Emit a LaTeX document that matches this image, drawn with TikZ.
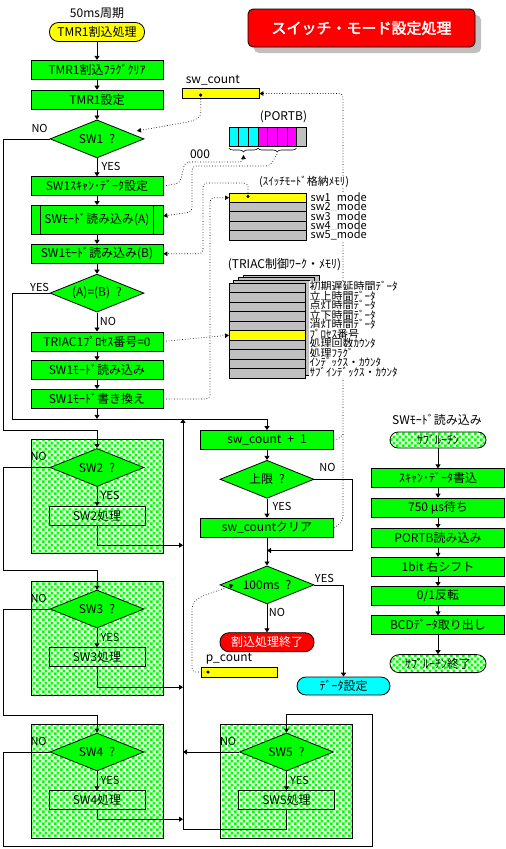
\documentclass[tikz,border=0pt]{standalone}
\usepackage{fontspec}
\setmainfont{Noto Sans CJK JP}
\newfontfamily\titlefont{Noto Sans CJK JP}[AutoFakeBold=2.5]
\usetikzlibrary{arrows.meta, positioning, shapes.geometric, patterns, shadows, decorations.pathreplacing}
\definecolor{swGreen}{HTML}{00FF00}
\definecolor{swYellow}{HTML}{FFFF00}
\definecolor{swRed}{HTML}{FF0000}
\definecolor{swCyan}{HTML}{00FFFF}
\definecolor{swMagenta}{HTML}{FF00FF}
\definecolor{swGray}{HTML}{C0C0C0}
\pgfdeclarepatternformonly{swcheck}{\pgfpointorigin}{\pgfqpoint{6pt}{6pt}}{\pgfqpoint{6pt}{6pt}}{%
	\pgfpathrectangle{\pgfpointorigin}{\pgfqpoint{3pt}{3pt}}%
	\pgfpathrectangle{\pgfqpoint{3pt}{3pt}}{\pgfqpoint{3pt}{3pt}}%
	\pgfusepath{fill}}

\begin{document}
\begin{tikzpicture}[
		x=1pt, y=-1pt,
		node distance=10pt,
		every node/.style={font=\fontsize{12}{13}\selectfont, inner sep=0pt},
		box/.style={draw, line width=0.8pt, fill=swGreen, minimum width=132pt, minimum height=19pt},
		decide/.style={diamond, draw, line width=0.8pt, fill=swGreen, minimum width=94pt, minimum height=38pt, aspect=2.5},
		term/.style={draw, line width=0.8pt, rounded corners=9pt, minimum width=95pt, minimum height=19pt},
		checker/.style={pattern=swcheck, pattern color=swGreen},
		swblock/.style={draw, line width=0.8pt, checker, minimum width=132pt, minimum height=114pt},
		procbox/.style={draw, line width=0.8pt, minimum width=96pt, minimum height=19pt},
		membar/.style={draw, line width=0.8pt, fill=swYellow, minimum width=77pt, minimum height=9.5pt},
		memcap/.style={anchor=west, fill=white, inner sep=0.5pt, font=\fontsize{11}{12}\selectfont},
		lbl/.style={font=\fontsize{11}{12}\selectfont},
		wire/.style={line width=0.8pt},
		arrow/.style={wire, -{Triangle[length=4pt, width=5pt]}},
		dotline/.style={dotted, line width=0.7pt, rounded corners=4pt},
		dotarrow/.style={dotline, -{Triangle[length=4pt, width=4.5pt]}},
		dotlink/.style={dotline, {Circle[length=3pt]}-{Triangle[length=4pt, width=4.5pt]}}
	]
	\path[use as bounding box, fill=white] (0,0) rectangle (506,849);

	\node[draw, line width=0.8pt, fill=swRed, rounded corners=5pt, minimum width=227pt, minimum height=38pt,
		drop shadow={shadow xshift=6pt, shadow yshift=-6pt, fill=swGray, opacity=1},
		text=white, font=\titlefont\bfseries\fontsize{15}{17}\selectfont] (title) at (361.5,28) {スイッチ・モード設定処理};

	\node[term, fill=swYellow] (tmr) at (97,32) {TMR1割込処理};
	\node[above=3pt of tmr] (period) {50ms周期};
	\node[box, below=18pt of tmr] (flag) {TMR1割込ﾌﾗｸﾞｸﾘｱ};
	\node[box, below=of flag] (tmrset) {TMR1設定};
	\node[decide, below=of tmrset] (sw1) {SW1\enspace?};
	\node[box, below=18pt of sw1] (scan) {SW1ｽｷｬﾝ･ﾃﾞｰﾀ設定};
	\node[box, minimum height=29pt, below=9pt of scan] (readA) {SWﾓｰﾄﾞ読み込み(A)};
	\node[box, below=9pt of readA] (readB) {SW1ﾓｰﾄﾞ読み込み(B)};
	\node[decide, below=of readB] (same) {(A)=(B)\enspace?};
	\node[box, below=19pt of same] (triac) {TRIAC1ﾌﾟﾛｾｽ番号=0};
	\node[box, below=9pt of triac] (readsw) {SW1ﾓｰﾄﾞ読み込み};
	\node[box, below=9pt of readsw] (rewrite) {SW1ﾓｰﾄﾞ書き換え};
	\coordinate[below=10pt of rewrite] (merge);
	\coordinate (rail) at ([xshift=86pt]merge);
	\draw[wire] ([xshift=10pt]readA.north west) -- ([xshift=10pt]readA.south west);
	\draw[wire] ([xshift=-10pt]readA.north east) -- ([xshift=-10pt]readA.south east);

	\node[lbl] (sw1no) at ([xshift=-10pt, yshift=10.5pt]sw1.west) {NO};
	\node[lbl] (sw1yes) at ([xshift=14pt, yshift=-8pt]sw1.south) {YES};
	\node[lbl] (sameyes) at ([xshift=-10pt, yshift=5.5pt]same.west) {YES};
	\node[lbl] (sameno) at ([xshift=11pt, yshift=-9pt]same.south) {NO};

	\node[box, minimum width=133pt] (cnt) at (267,440) {sw\_count\enspace+\enspace1};
	\node[decide, below=of cnt] (limit) {上限\enspace?};
	\node[box, minimum width=133pt, below=19pt of limit] (clear) {sw\_countクリア};
	\coordinate[below=13pt of clear] (join);
	\node[decide, below=28pt of clear] (ms) {100ms\enspace?};
	\node[term, fill=swRed, text=white, minimum width=94pt, below=28pt of ms] (intend) {割込処理終了};
	\node[term, fill=swCyan, minimum width=93pt, minimum height=18pt] (dataset) at (343.5,686) {ﾃﾞｰﾀ設定};
	\node[lbl] (limitno) at ([xshift=13pt, yshift=11.5pt]limit.east) {NO};
	\node[lbl] (limityes) at ([xshift=15pt, yshift=-8pt]limit.south) {YES};
	\node[lbl] (msyes) at ([xshift=10pt, yshift=6.5pt]ms.east) {YES};
	\node[lbl] (msno) at ([xshift=10pt, yshift=-8pt]ms.south) {NO};

	\node[swblock] (blk2) at (97,496.5) {};
	\node[decide, below=9pt of blk2.north] (sw2) {SW2\enspace?};
	\node[procbox, below=19pt of sw2] (proc2) {SW2処理};
	\node[lbl] (sw2no) at ([xshift=-11pt, yshift=11pt]sw2.west) {NO};
	\node[lbl] (sw2yes) at ([xshift=13pt, yshift=-9pt]sw2.south) {YES};

	\node[swblock] (blk3) at (97,638) {};
	\node[decide, below=9pt of blk3.north] (sw3) {SW3\enspace?};
	\node[procbox, below=19pt of sw3] (proc3) {SW3処理};
	\node[lbl] (sw3no) at ([xshift=-11pt, yshift=11pt]sw3.west) {NO};
	\node[lbl] (sw3yes) at ([xshift=13pt, yshift=-9pt]sw3.south) {YES};

	\node[swblock] (blk4) at (97,781) {};
	\node[decide, below=9pt of blk4.north] (sw4) {SW4\enspace?};
	\node[procbox, below=19pt of sw4] (proc4) {SW4処理};
	\node[lbl] (sw4no) at ([xshift=-11pt, yshift=11pt]sw4.west) {NO};
	\node[lbl] (sw4yes) at ([xshift=13pt, yshift=-9pt]sw4.south) {YES};

	\node[swblock] (blk5) at (286.5,781) {};
	\node[decide, below=9pt of blk5.north] (sw5) {SW5\enspace?};
	\node[procbox, below=19pt of sw5] (proc5) {SW5処理};
	\node[lbl] (sw5no) at ([xshift=-11pt, yshift=11pt]sw5.west) {NO};
	\node[lbl] (sw5yes) at ([xshift=13pt, yshift=-9pt]sw5.south) {YES};

	\node (subname) at (437,420) {SWﾓｰﾄﾞ読み込み};
	\node[term, checker, minimum width=96pt, minimum height=16pt, rounded corners=8pt] (sub) at (438,440) {ｻﾌﾞﾙｰﾁﾝ};
	\node[box, minimum width=133pt, below=20pt of sub] (s1) {ｽｷｬﾝ･ﾃﾞｰﾀ書込};
	\node[box, minimum width=133pt, below=9.5pt of s1] (s2) {750 μs待ち};
	\node[box, minimum width=133pt, below=10.5pt of s2] (s3) {PORTB読み込み};
	\node[box, minimum width=133pt, below=9pt of s3] (s4) {1bit 右シフト};
	\node[box, minimum width=133pt, below=9.5pt of s4] (s5) {0/1反転};
	\node[box, minimum width=133pt, below=9.5pt of s5] (s6) {BCDﾃﾞｰﾀ取り出し};
	\node[term, checker, minimum width=96pt, minimum height=18pt, below=19pt of s6] (subend) {ｻﾌﾞﾙｰﾁﾝ終了};

	\draw[arrow] (tmr) -- (flag);
	\draw[arrow] (flag) -- (tmrset);
	\draw[arrow] (tmrset) -- (sw1);
	\draw[arrow] (sw1) -- (scan);
	\draw[arrow] (scan) -- (readA);
	\draw[arrow] (readA) -- (readB);
	\draw[arrow] (readB) -- (same);
	\draw[arrow] (same) -- (triac);
	\draw[arrow] (triac) -- (readsw);
	\draw[arrow] (readsw) -- (rewrite);
	\draw[arrow] (rewrite) -- (merge);
	\draw[arrow] (same.west) -| ([xshift=-85pt]merge) -- (merge -| cnt.north) -- (cnt.north);

	\draw[arrow] (sw1.west) -| (3,430) -| (sw2.north);
	\draw[arrow] (sw2.west) -| (3,570) -| (sw3.north);
	\draw[arrow] (sw3.west) -| (3,715) -| (sw4.north);
	\draw[arrow] (sw4.west) -| (3,846) -| (372,714) -| (sw5.north);
	\draw[arrow] (sw2) -- (proc2);
	\draw[arrow] (sw3) -- (proc3);
	\draw[arrow] (sw4) -- (proc4);
	\draw[arrow] (sw5) -- (proc5);
	\draw[arrow] (proc2.south) -- ++(0,19.5) coordinate (out2) -- (out2 -| rail);
	\draw[arrow] (proc3.south) -- ++(0,20) coordinate (out3) -- (out3 -| rail);
	\draw[arrow] (proc4.south) -- ++(0,9) coordinate (out4) -- (out4 -| rail);
	\draw[arrow] (sw5.west) -- (sw5.west -| rail);
	\draw[arrow] (proc5.south) -- ++(0,19) coordinate (out5) -- (out5 -| rail) -- (rail);

	\draw[arrow] (cnt) -- (limit);
	\draw[arrow] (limit) -- (clear);
	\draw[arrow] (clear) -- (ms);
	\draw[arrow] (limit.east) -| ([xshift=85pt]join) -- (join);
	\draw[arrow] (ms) -- (intend);
	\draw[arrow] (ms.east) -| (dataset.north);

	\draw[arrow] (sub) -- (s1);
	\draw[arrow] (s1) -- (s2);
	\draw[arrow] (s2) -- (s3);
	\draw[arrow] (s3) -- (s4);
	\draw[arrow] (s4) -- (s5);
	\draw[arrow] (s5) -- (s6);
	\draw[arrow] (s6) -- (subend);

	\node[membar] (swcnt) at (220.5,93.5) {};
	\node[anchor=south west] (swcntname) at ([xshift=4pt, yshift=3pt]swcnt.north west) {sw\_count};
	\coordinate (swcntdot) at ([xshift=19pt]swcnt.west);
	\coordinate (sw1in) at ([xshift=40pt, yshift=8pt]sw1.center);
	\draw[dotlink] (swcntdot) -- (201,116) -- (193,121) -- (sw1in);
	\draw[dotarrow] (clear.east) -- (338,526) -- (343,520) |- (swcnt.east);
	\draw[dotline] (cnt.east) -- (338,440) -- (343,434);

	\fill[swCyan] (229,127) rectangle (258,146);
	\fill[swMagenta] (258,127) rectangle (296.5,146);
	\fill[swGray] (296.5,127) rectangle (306,146);
	\foreach \x in {238.6, 248.3, 258, 267.6, 277.2, 286.9, 296.5}
		\draw[wire] (\x,127) -- (\x,146);
	\node[draw, line width=0.8pt, minimum width=77pt, minimum height=19pt] (portb) at (267.5,136.5) {};
	\node (portbname) at (283.5,117) {(PORTB)};
	\draw[line width=0.6pt, decorate, decoration={brace, mirror, amplitude=4pt}] (229,148) -- (258,148);
	\draw[line width=0.6pt, decorate, decoration={brace, mirror, amplitude=4pt}] (258,148) -- (296.5,148);
	\coordinate (bitsA) at (243.5,155);
	\coordinate (bitsB) at (277,154);
	\node (zeros) at (200,154) {000};
	\draw[dotarrow] (scan.east) -- (180,183) -- (185,162) -| (bitsA);
	\draw[dotarrow] (bitsB) -- (270,166) -| (192,212) -- ([yshift=4pt]readA.east);

	\fill[swYellow] (229,193) rectangle (306,202.4);
	\fill[swGray] (229,202.4) rectangle (306,240);
	\foreach \i in {1,...,4}
		\draw[wire] (229,{193+9.4*\i}) -- (306,{193+9.4*\i});
	\node[draw, line width=0.8pt, minimum width=77pt, minimum height=47pt] (modemem) at (267.5,216.5) {};
	\coordinate (mode1dot) at (248,198);
	\coordinate (mode1in) at (229,197.7);
	\draw[dotlink] (mode1dot) |- (203,183) |- (readB.east);
	\draw[dotarrow] (rewrite.east) -| (210,197.7) -- (mode1in);
	\node[memcap, anchor=center] (modename) at (304,182) {(ｽｲｯﾁﾓｰﾄﾞ格納ﾒﾓﾘ)};
	\foreach \i in {1,...,5}
		\node[memcap] (mode\i) at (310,{188.3+9.4*\i}) {sw\i\_mode};

	\filldraw[fill=swGray, line width=0.8pt] (243,275) rectangle (319,370);
	\filldraw[fill=swGray, line width=0.8pt] (238.3,277.7) rectangle (314.3,372.7);
	\filldraw[fill=swGray, line width=0.8pt] (233.7,280.3) rectangle (309.7,375.3);
	\fill[swGray] (229,283) rectangle (305,378);
	\fill[swYellow] (229,330.5) rectangle (305,340);
	\foreach \i in {1,...,9}
		\draw[wire] (229,{283+9.5*\i}) -- (305,{283+9.5*\i});
	\node[draw, line width=0.8pt, minimum width=76pt, minimum height=95pt] (triacmem) at (267,330.5) {};
	\coordinate (procin) at (229,335.25);
	\draw[dotarrow] (triac.east) -- (procin);
	\node (triacname) at (284.5,265) {(TRIAC制御ﾜｰｸ・ﾒﾓﾘ)};
	\foreach \txt [count=\i] in {初期遅延時間ﾃﾞｰﾀ, 立上時間ﾃﾞｰﾀ, 点灯時間ﾃﾞｰﾀ, 立下時間ﾃﾞｰﾀ, 消灯時間ﾃﾞｰﾀ, ﾌﾟﾛｾｽ番号, 処理回数ｶｳﾝﾀ, 処理ﾌﾗｸﾞ, ｲﾝﾃﾞｯｸｽ・ｶｳﾝﾀ, ｻﾌﾞｲﾝﾃﾞｯｸｽ・ｶｳﾝﾀ}
		\node[memcap] (work\i) at (309,{283+9.5*\i-6}) {\txt};

	\node[membar, minimum width=76pt, minimum height=10pt] (pcnt) at (239,672) {};
	\node[anchor=south west] (pcntname) at ([xshift=5pt, yshift=2pt]pcnt.north west) {p\_count};
	\coordinate (pcntdot) at ([xshift=9pt]pcnt.west);
	\coordinate (msin) at ([xshift=14pt]ms.west);
	\draw[dotlink] (pcntdot) -| (192,604) -- (200,597) -- (msin);
\end{tikzpicture}
\end{document}
